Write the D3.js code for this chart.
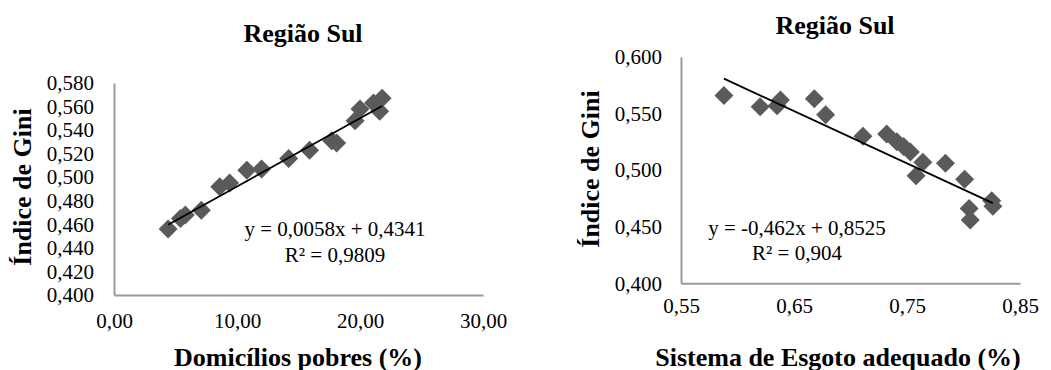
<!DOCTYPE html>
<html>
<head>
<meta charset="utf-8">
<script src="https://cdn.jsdelivr.net/npm/d3@7"></script>
<style>
  html, body { margin: 0; padding: 0; background: #fff; }
  svg { display: block; }
  svg text { font-family: "Liberation Serif", "Times New Roman", "DejaVu Serif", serif; }
</style>
</head>
<body>
<svg id="chart" width="1051" height="370"></svg>
<script>
// Região Sul: Índice de Gini vs. domicílios pobres (%)
const pobresX = [4.4, 5.4, 5.8, 7.1, 8.6, 9.4, 10.8, 12.0, 14.2, 15.9, 17.7, 18.1, 19.6, 20.0, 21.1, 21.6, 21.8];
const pobresGini = [0.456, 0.465, 0.468, 0.472, 0.492, 0.495, 0.506, 0.507, 0.516, 0.523, 0.531, 0.529, 0.548, 0.558, 0.563, 0.556, 0.567];
const pobresTicksX = [0, 10, 20, 30];
const pobresTicksY = [0.40, 0.42, 0.44, 0.46, 0.48, 0.50, 0.52, 0.54, 0.56, 0.58];
const pobresFit = { slope: 0.0058, intercept: 0.4341 };
const pobresLabels = ["y = 0,0058x + 0,4341", "R² = 0,9809"];

// Região Sul: Índice de Gini vs. sistema de esgoto adequado (%)
const esgotoX = [0.588, 0.620, 0.635, 0.638, 0.668, 0.678, 0.711, 0.732, 0.741, 0.747, 0.753, 0.764, 0.758, 0.784, 0.801, 0.805, 0.806, 0.825, 0.826];
const esgotoGini = [0.566, 0.556, 0.557, 0.562, 0.563, 0.549, 0.530, 0.532, 0.525, 0.521, 0.516, 0.507, 0.495, 0.506, 0.492, 0.466, 0.456, 0.473, 0.468];
const esgotoTicksX = [0.55, 0.65, 0.75, 0.85];
const esgotoTicksY = [0.400, 0.450, 0.500, 0.550, 0.600];
const esgotoFit = { slope: -0.462, intercept: 0.8525 };
const esgotoLabels = ["y = -0,462x + 0,8525", "R² = 0,904"];

const SERIF = "Liberation Serif";
const svg = d3.select("#chart");
const comma = s => s.replace(".", ",");

function panel(cfg) {
  const x = d3.scaleLinear().domain(cfg.xDomain).range(cfg.xRange);
  const y = d3.scaleLinear().domain(cfg.yDomain).range(cfg.yRange);
  const g = svg.append("g").attr("font-family", SERIF);

  // axis lines (no tick marks)
  const xAxis = d3.axisBottom(x).tickValues(cfg.ticksX).tickSize(0).tickPadding(cfg.xPad)
    .tickFormat(d => comma(d3.format(cfg.xFmt)(d)));
  const yAxis = d3.axisLeft(y).tickValues(cfg.ticksY).tickSize(0).tickPadding(cfg.yPad)
    .tickFormat(d => comma(d3.format(cfg.yFmt)(d)));

  const gx = g.append("g").attr("transform", `translate(0,${cfg.yRange[0]})`).call(xAxis);
  const gy = g.append("g").attr("transform", `translate(${cfg.xRange[0]},0)`).call(yAxis);
  [gx, gy].forEach(a => {
    a.attr("font-family", SERIF).attr("font-size", 21);
    a.select(".domain").attr("stroke", "#9a9a9a").attr("stroke-width", 2);
    a.selectAll("text").attr("fill", "#000").attr("font-family", SERIF).attr("font-size", 21);
  });

  const [x0, x1] = d3.extent(cfg.xs);
  const fitLine = () => g.append("line")
    .attr("x1", x(x0)).attr("y1", y(cfg.fit.slope * x0 + cfg.fit.intercept))
    .attr("x2", x(x1)).attr("y2", y(cfg.fit.slope * x1 + cfg.fit.intercept))
    .attr("stroke", "#000").attr("stroke-width", 1.8);

  // diamond markers
  const r = 9.5;
  g.selectAll("path.pt").data(cfg.xs.map((v, i) => [v, cfg.ys[i]])).join("path")
    .attr("class", "pt")
    .attr("d", d => `M${x(d[0])},${y(d[1]) - r}L${x(d[0]) + r},${y(d[1])}L${x(d[0])},${y(d[1]) + r}L${x(d[0]) - r},${y(d[1])}Z`)
    .attr("fill", "#5a5a5a");

  // linear trend line over the markers
  fitLine();

  // equation and R²
  cfg.labels.forEach((t, i) => {
    g.append("text").attr("x", cfg.eq[0]).attr("y", cfg.eq[1] + i * cfg.eqGap)
      .attr("text-anchor", "middle").attr("dominant-baseline", "central")
      .attr("font-family", SERIF).attr("font-size", 21).text(t);
  });

  // titles
  g.append("text").attr("x", cfg.title[0]).attr("y", cfg.title[1])
    .attr("text-anchor", "middle").attr("dominant-baseline", "central")
    .attr("font-family", SERIF).attr("font-size", 26).attr("font-weight", "bold").text("Região Sul");
  g.append("text").attr("x", cfg.xTitle[0]).attr("y", cfg.xTitle[1])
    .attr("text-anchor", "middle").attr("dominant-baseline", "central")
    .attr("font-family", SERIF).attr("font-size", 26).attr("font-weight", "bold").text(cfg.xName);
  g.append("text")
    .attr("transform", `translate(${cfg.yTitle[0]},${cfg.yTitle[1]}) rotate(-90)`)
    .attr("text-anchor", "middle").attr("dominant-baseline", "central")
    .attr("font-family", SERIF).attr("font-size", 26).attr("font-weight", "bold").text("Índice de Gini");
}

panel({
  xs: pobresX, ys: pobresGini, fit: pobresFit, labels: pobresLabels,
  xDomain: [0, 30], xRange: [114, 483],
  yDomain: [0.40, 0.58], yRange: [295, 83],
  ticksX: pobresTicksX, ticksY: pobresTicksY, xFmt: ".2f", yFmt: ".3f",
  xPad: 18, yPad: 20,
  eq: [335, 229], eqGap: 26,
  title: [303, 33], xTitle: [298, 357], yTitle: [22, 187],
  xName: "Domicílios pobres (%)"
});

panel({
  xs: esgotoX, ys: esgotoGini, fit: esgotoFit, labels: esgotoLabels,
  xDomain: [0.55, 0.85], xRange: [681, 1020],
  yDomain: [0.40, 0.60], yRange: [283.3, 57],
  ticksX: esgotoTicksX, ticksY: esgotoTicksY, xFmt: ".2f", yFmt: ".3f",
  xPad: 15, yPad: 19,
  eq: [797, 228], eqGap: 25,
  title: [835, 25], xTitle: [838, 357], yTitle: [590, 169],
  xName: "Sistema de Esgoto adequado (%)"
});
</script>
</body>
</html>
